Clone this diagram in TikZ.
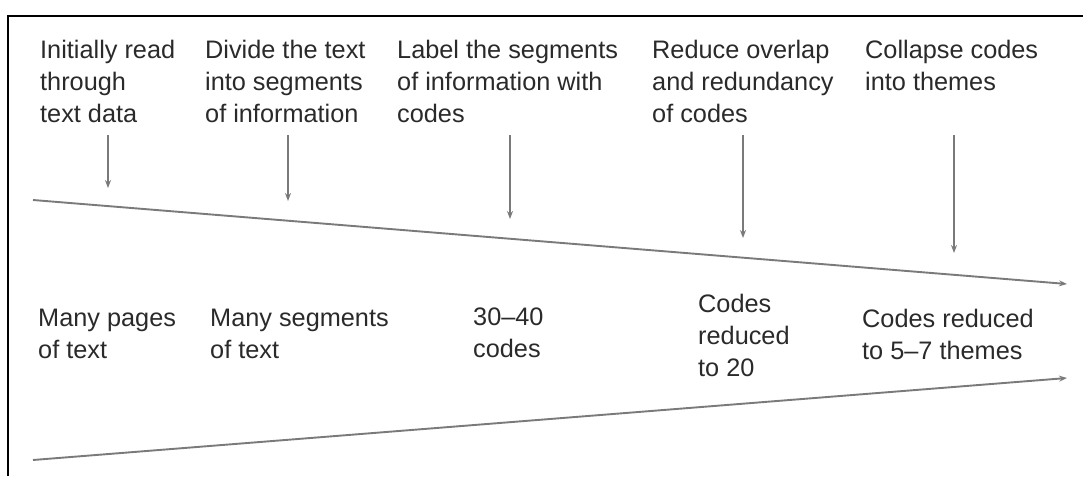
\documentclass[tikz,border=0pt]{standalone}
\usepackage{fontspec}
\setmainfont{Liberation Sans}
\usetikzlibrary{arrows.meta}
\definecolor{ink}{HTML}{2A2A2A}
\definecolor{rule}{HTML}{7A7A7A}
\begin{document}
\begin{tikzpicture}[x=1pt, y=-1pt,
  lbl/.style={anchor=north west, inner sep=0pt, align=left, text=ink,
              font=\fontsize{25.3}{32}\selectfont},
  flow/.style={draw=rule, line width=1.9pt, -{Stealth[length=8pt,width=6pt]}},
  frame/.style={draw=black, line width=2.4pt}]
\useasboundingbox (0,0) rectangle (1083,476);
% open frame (top and left edges)
\draw[frame] (8,476) -- (8,16) -- (1083,16);

% steps of the coding process
\node[lbl] (s1) at (40,40)  {Initially read\\through\\text data};
\node[lbl] (s2) at (205,40) {Divide the text\\into segments\\of information};
\node[lbl] (s3) at (397,40) {Label the segments\\of information with\\codes};
\node[lbl] (s4) at (652,40) {Reduce overlap\\and redundancy\\of codes};
\node[lbl] (s5) at (865,40) {Collapse codes\\into themes};

% results of each step
\node[lbl] (r1) at (38,309)  {Many pages\\of text};
\node[lbl] (r2) at (210,309) {Many segments\\of text};
\node[lbl] (r3) at (473,308) {30--40\\codes};
\node[lbl] (r4) at (698,294) {Codes\\reduced\\to 20};
\node[lbl] (r5) at (862,309) {Codes reduced\\to 5--7 themes};

% converging funnel
\coordinate (u0) at (33,200);  \coordinate (u1) at (1067,284);
\coordinate (l0) at (33,460);  \coordinate (l1) at (1067,378);
\draw[flow] (u0) -- (u1);
\draw[flow] (l0) -- (l1);

% step arrows down to the funnel
\coordinate (a1) at (108,135); \coordinate (b1) at (108,188);
\coordinate (a2) at (288,135); \coordinate (b2) at (288,201);
\coordinate (a3) at (510,135); \coordinate (b3) at (510,219);
\coordinate (a4) at (743,135); \coordinate (b4) at (743,238);
\coordinate (a5) at (954,135); \coordinate (b5) at (954,253);
\foreach \i in {1,...,5} \draw[flow] (a\i) -- (b\i);
\end{tikzpicture}
\end{document}
